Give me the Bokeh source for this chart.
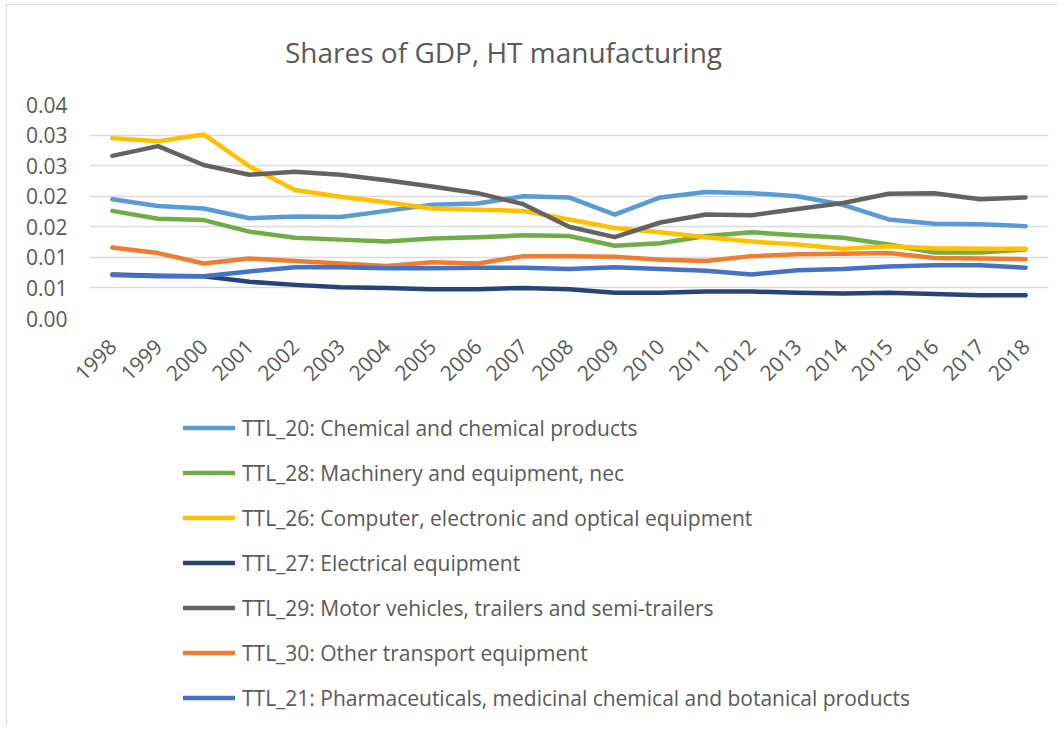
import math
from bokeh.plotting import figure
from bokeh.layouts import column
from bokeh.models import (FactorRange, Range1d, FixedTicker, Legend, LegendItem,
                          Label, CustomJSTickFormatter)
from bokeh.embed import file_html
from bokeh.resources import INLINE

# ---------------- data ----------------
years = [str(y) for y in range(1998, 2019)]

chemical = [0.0195, 0.0184, 0.0180, 0.0164, 0.0167, 0.0166, 0.0176, 0.0186, 0.0188, 0.0200,
            0.0198, 0.0170, 0.0198, 0.0207, 0.0205, 0.0200, 0.0186, 0.0162, 0.0155, 0.0154, 0.0151]
machinery = [0.0176, 0.0163, 0.0161, 0.0142, 0.0132, 0.0129, 0.0126, 0.0131, 0.0133, 0.0136,
             0.0135, 0.0119, 0.0123, 0.0135, 0.0141, 0.0136, 0.0132, 0.0121, 0.0108, 0.0108, 0.0113]
computer = [0.0295, 0.0290, 0.0301, 0.0249, 0.0210, 0.0199, 0.0190, 0.0180, 0.0178, 0.0176,
            0.0162, 0.0148, 0.0141, 0.0133, 0.0126, 0.0121, 0.0114, 0.0118, 0.0115, 0.0114, 0.0114]
electrical = [0.0072, 0.0070, 0.0069, 0.0060, 0.0055, 0.0051, 0.0050, 0.0048, 0.0048, 0.0050,
              0.0048, 0.0042, 0.0042, 0.0044, 0.0044, 0.0042, 0.0041, 0.0042, 0.0040, 0.0038, 0.0038]
motor = [0.0266, 0.0282, 0.0251, 0.0235, 0.0240, 0.0235, 0.0226, 0.0216, 0.0205, 0.0187,
         0.0150, 0.0133, 0.0157, 0.0170, 0.0169, 0.0179, 0.0189, 0.0204, 0.0205, 0.0195, 0.0198]
other_transport = [0.0116, 0.0107, 0.0090, 0.0098, 0.0094, 0.0090, 0.0086, 0.0092, 0.0090, 0.0102,
                   0.0102, 0.0101, 0.0096, 0.0094, 0.0102, 0.0105, 0.0106, 0.0107, 0.0099, 0.0098, 0.0097]
pharma = [0.0071, 0.0069, 0.0069, 0.0077, 0.0084, 0.0084, 0.0082, 0.0082, 0.0083, 0.0083,
          0.0081, 0.0084, 0.0081, 0.0078, 0.0072, 0.0079, 0.0081, 0.0085, 0.0087, 0.0087, 0.0083]

series_names = [
    "TTL_20: Chemical and chemical products",
    "TTL_28: Machinery and equipment, nec",
    "TTL_26: Computer, electronic and optical equipment",
    "TTL_27: Electrical equipment",
    "TTL_29: Motor vehicles, trailers and semi-trailers",
    "TTL_30: Other transport equipment",
    "TTL_21: Pharmaceuticals, medicinal chemical and botanical products",
]
series_values = [chemical, machinery, computer, electrical, motor, other_transport, pharma]
series_colors = ["#5B9BD5", "#70AD47", "#FFC000", "#264478", "#636363", "#ED7D31", "#4472C4"]

y_ticks = [0.0, 0.005, 0.01, 0.015, 0.02, 0.025, 0.03, 0.035]
y_tick_labels = ["0.00", "0.01", "0.01", "0.02", "0.02", "0.03", "0.03", "0.04"]

title_text = "Shares of GDP, HT manufacturing"

FONT = "Open Sans"
TXT = "#595959"
W = 1050
H0 = 87
H1 = 313
H2 = 320


def blank(fig):
    fig.outline_line_color = None
    fig.grid.visible = False
    fig.background_fill_color = "white"
    fig.border_fill_color = "white"


# ---------------- title strip ----------------
tf = figure(width=W, height=H0, x_range=Range1d(0, 1), y_range=Range1d(0, 1),
            output_backend="svg", toolbar_location=None,
            x_axis_location=None, y_axis_location=None,
            min_border_left=0, min_border_right=0, min_border_top=0, min_border_bottom=0)
blank(tf)
tf.add_layout(Label(x=414, y=41, x_units="screen", y_units="screen", text=title_text,
                    text_font=FONT, text_font_size="28px", text_color=TXT,
                    text_align="center", text_baseline="alphabetic"))

# ---------------- chart ----------------
p = figure(width=W, height=H1, x_range=FactorRange(*years), y_range=Range1d(0, 0.035),
           output_backend="svg", toolbar_location=None,
           min_border_left=82, min_border_right=9, min_border_top=12, min_border_bottom=87)
p.outline_line_color = None
p.background_fill_color = "white"
p.border_fill_color = "white"

for vals, col in zip(series_values, series_colors):
    p.line(years, vals, line_color=col, line_width=4.5, line_cap="round", line_join="round")

p.yaxis.ticker = FixedTicker(ticks=y_ticks)
p.yaxis.formatter = CustomJSTickFormatter(args=dict(tv=y_ticks, tl=y_tick_labels), code="""
    for (let i = 0; i < tv.length; i++) { if (Math.abs(tv[i] - tick) < 1e-9) return tl[i]; }
    return tick.toFixed(2);
""")
p.yaxis.axis_line_color = None
p.yaxis.major_tick_line_color = None
p.yaxis.minor_tick_line_color = None
p.yaxis.major_tick_out = 0
p.yaxis.major_tick_in = 0
p.yaxis.major_label_standoff = 22
p.yaxis.major_label_text_font = FONT
p.yaxis.major_label_text_font_size = "21px"
p.yaxis.major_label_text_color = TXT

p.xaxis.axis_line_color = None
p.xaxis.major_tick_line_color = None
p.xaxis.minor_tick_line_color = None
p.xaxis.major_tick_out = 0
p.xaxis.major_tick_in = 0
p.xaxis.major_label_orientation = math.pi / 4
p.xaxis.major_label_standoff = 24
p.xaxis.major_label_text_font = FONT
p.xaxis.major_label_text_font_size = "21px"
p.xaxis.major_label_text_color = TXT

p.xgrid.grid_line_color = None
p.ygrid.grid_line_color = "#D9D9D9"
p.ygrid.grid_line_width = 1.5

# ---------------- legend strip ----------------
lg = figure(width=W, height=H2, x_range=p.x_range, y_range=p.y_range,
            output_backend="svg", toolbar_location=None,
            x_axis_location=None, y_axis_location=None,
            min_border_left=0, min_border_right=0, min_border_top=0, min_border_bottom=0)
blank(lg)

lg_renderers = []
for vals, col in zip(series_values, series_colors):
    r = lg.line(years, vals, line_color=col, line_width=4.5, line_cap="round", line_join="round",
                visible=False)
    lg_renderers.append(r)

legend = Legend(items=[LegendItem(label=n, renderers=[r]) for n, r in zip(series_names, lg_renderers)],
                location=(94, 5), orientation="vertical",
                glyph_width=52, glyph_height=45, label_height=45, spacing=0,
                label_standoff=7, padding=0, margin=0,
                border_line_color=None, background_fill_alpha=0,
                label_text_font=FONT, label_text_font_size="21px", label_text_color=TXT)
lg.add_layout(legend)

layout = column(tf, p, lg, spacing=0)
layout.styles = {"margin-left": "6px", "margin-top": "4px",
                 "border-left": "1px solid #D9D9D9", "border-top": "1px solid #D9D9D9"}

open("out.html", "w").write(file_html(layout, INLINE))
